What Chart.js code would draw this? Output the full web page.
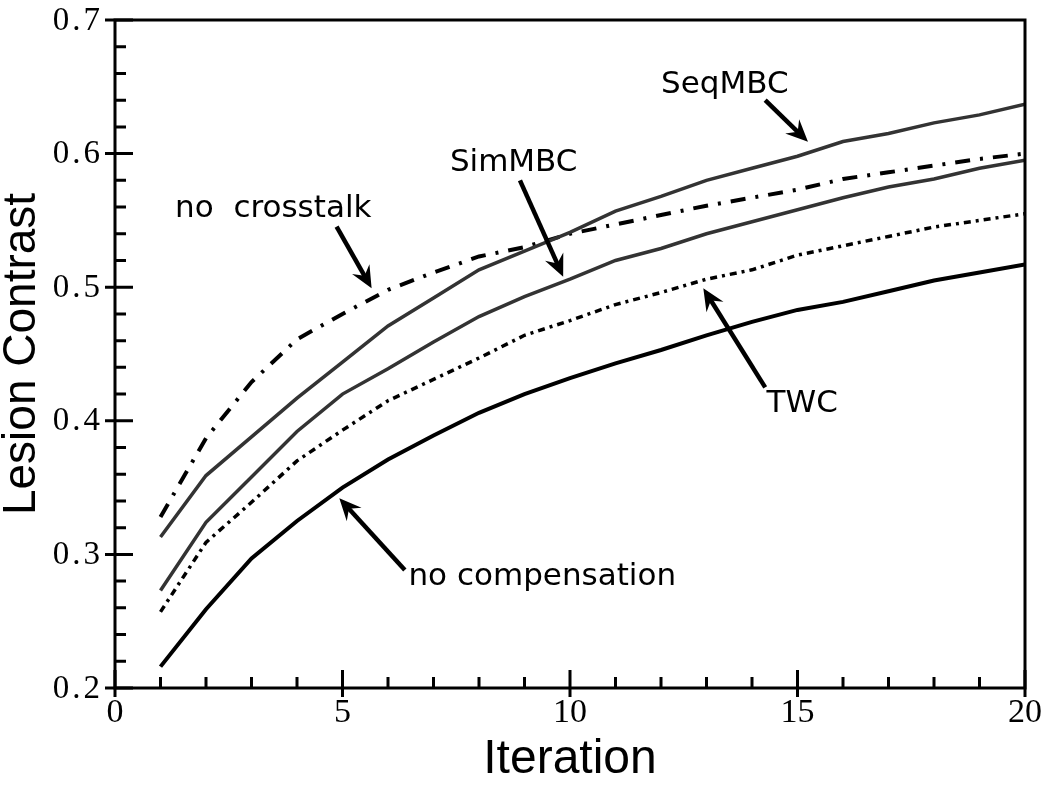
<!DOCTYPE html>
<html><head><meta charset="utf-8">
<script src="https://cdn.jsdelivr.net/npm/chart.js@4.4.1/dist/chart.umd.min.js"></script>
<style>html,body{margin:0;padding:0;background:#fff;}#wrap{width:1050px;height:793px;}</style>
</head><body><div id="wrap"><canvas id="c" width="1050" height="793"></canvas></div>
<script>
const iterations = [1,2,3,4,5,6,7,8,9,10,11,12,13,14,15,16,17,18,19,20];
const seqMBC = [0.313,0.359,0.388,0.417,0.444,0.471,0.492,0.513,0.527,0.541,0.557,0.568,0.580,0.589,0.598,0.609,0.615,0.623,0.629,0.637];
const simMBC = [0.273,0.324,0.358,0.392,0.420,0.439,0.459,0.478,0.493,0.506,0.520,0.529,0.540,0.549,0.558,0.567,0.575,0.581,0.589,0.595];
const noCrosstalk = [0.328,0.387,0.429,0.461,0.480,0.498,0.511,0.523,0.530,0.540,0.547,0.554,0.561,0.567,0.573,0.581,0.586,0.591,0.596,0.600];
const twc = [0.257,0.309,0.339,0.370,0.393,0.415,0.431,0.447,0.464,0.475,0.487,0.496,0.506,0.513,0.524,0.531,0.538,0.545,0.550,0.555];
const noCompensation = [0.216,0.259,0.297,0.325,0.350,0.371,0.389,0.406,0.420,0.432,0.443,0.453,0.464,0.474,0.483,0.489,0.497,0.505,0.511,0.517];
const xMajorTicks = [0,5,10,15,20];
const yMajorTicks = [0.2,0.3,0.4,0.5,0.6,0.7];
const yTickLabels = ['0.2','0.3','0.4','0.5','0.6','0.7'];
const xMinorStep = 1;
const yMinorStep = 0.02;
const annotationLabels = ['SeqMBC','SimMBC','no  crosstalk','TWC','no compensation'];
const annotationTextAt = [[12.0,0.645],[7.36,0.587],[1.32,0.5528],[14.32,0.4068],[6.45,0.277]];
const annotationArrowFrom = [[14.29,0.640],[8.90,0.580],[4.87,0.5453],[14.29,0.425],[6.37,0.2883]];
const annotationArrowTo = [[15.23,0.6089],[9.85,0.5079],[5.64,0.4992],[12.93,0.4992],[4.93,0.342]];

function pts(arr){ return iterations.map((x,i)=>({x:x,y:arr[i]})); }

const framePlugin = {
  id:'frame',
  afterDatasetsDraw(chart){
    const ctx = chart.ctx, a = chart.chartArea, xs = chart.scales.x, ys = chart.scales.y;
    ctx.save();
    ctx.strokeStyle = '#000'; ctx.lineWidth = 3; ctx.lineCap='butt';
    ctx.strokeRect(a.left, a.top, a.right - a.left, a.bottom - a.top);
    ctx.beginPath();
    for (let v = xs.min; v <= xs.max + 1e-9; v += xMinorStep) {
      const p = xs.getPixelForValue(v);
      ctx.moveTo(p, a.bottom); ctx.lineTo(p, a.bottom - 11);
    }
    xMajorTicks.forEach(v=>{ const p = xs.getPixelForValue(v); ctx.moveTo(p, a.bottom + 9); ctx.lineTo(p, a.bottom - 18); });
    for (let k = 0; ; k++) {
      const v = ys.min + k*yMinorStep; if (v > ys.max + 1e-9) break;
      const p = ys.getPixelForValue(v);
      ctx.moveTo(a.left, p); ctx.lineTo(a.left + 11, p);
    }
    yMajorTicks.forEach(v=>{ const p = ys.getPixelForValue(v); ctx.moveTo(a.left - 10, p); ctx.lineTo(a.left + 18, p); });
    ctx.stroke();
    // y tick labels (wide-spaced serif, as in the original)
    ctx.fillStyle = '#000';
    ctx.font = '33px "Liberation Serif"';
    ctx.textAlign = 'right'; ctx.textBaseline = 'middle';
    if ('letterSpacing' in ctx) ctx.letterSpacing = '3px';
    yMajorTicks.forEach((v,i)=>{ ctx.fillText(yTickLabels[i], a.left - 12, ys.getPixelForValue(v) + 1); });
    if ('letterSpacing' in ctx) ctx.letterSpacing = '0px';
    ctx.restore();
  }
};

const annotPlugin = {
  id:'annot',
  afterDatasetsDraw(chart){
    const ctx = chart.ctx, xs = chart.scales.x, ys = chart.scales.y;
    ctx.save();
    ctx.fillStyle = '#000'; ctx.strokeStyle = '#000';
    ctx.font = '31px "DejaVu Sans"';
    ctx.textBaseline = 'alphabetic'; ctx.textAlign = 'left';
    annotationLabels.forEach((t,i)=>{
      ctx.fillText(t, xs.getPixelForValue(annotationTextAt[i][0]), ys.getPixelForValue(annotationTextAt[i][1]));
      const x1 = xs.getPixelForValue(annotationArrowFrom[i][0]), y1 = ys.getPixelForValue(annotationArrowFrom[i][1]);
      const x2 = xs.getPixelForValue(annotationArrowTo[i][0]), y2 = ys.getPixelForValue(annotationArrowTo[i][1]);
      const dx = x2-x1, dy = y2-y1, len = Math.hypot(dx,dy), ux = dx/len, uy = dy/len;
      const L = 22, W = 10;
      ctx.lineWidth = 4.5; ctx.lineCap = 'butt';
      ctx.beginPath(); ctx.moveTo(x1,y1); ctx.lineTo(x2 - ux*L*0.6, y2 - uy*L*0.6); ctx.stroke();
      ctx.beginPath();
      ctx.moveTo(x2,y2);
      ctx.lineTo(x2 - ux*L - uy*W, y2 - uy*L + ux*W);
      ctx.lineTo(x2 - ux*L*0.65, y2 - uy*L*0.65);
      ctx.lineTo(x2 - ux*L + uy*W, y2 - uy*L - ux*W);
      ctx.closePath(); ctx.fill();
    });
    ctx.restore();
  }
};

new Chart(document.getElementById('c'), {
  type:'line',
  data:{ datasets:[
    {label:'SeqMBC', data:pts(seqMBC), borderColor:'#333', borderWidth:3.5},
    {label:'SimMBC', data:pts(simMBC), borderColor:'#333', borderWidth:3.5},
    {label:'no crosstalk', data:pts(noCrosstalk), borderColor:'#000', borderWidth:4, borderDash:[15,10,3,10]},
    {label:'TWC', data:pts(twc), borderColor:'#000', borderWidth:3.5, borderDash:[7,5,3,5]},
    {label:'no compensation', data:pts(noCompensation), borderColor:'#000', borderWidth:4}
  ]},
  options:{
    responsive:false, animation:false, devicePixelRatio:1,
    layout:{padding:{top:20,right:25,left:0,bottom:0}},
    elements:{point:{radius:0}, line:{tension:0, fill:false}},
    plugins:{legend:{display:false}, tooltip:{enabled:false}},
    scales:{
      x:{type:'linear', min:0, max:20,
        afterFit(s){ s.height = 105; },
        afterBuildTicks(s){ s.ticks = xMajorTicks.map(v=>({value:v})); },
        grid:{display:false, drawTicks:false}, border:{display:false},
        ticks:{padding:5, color:'#000', font:{family:'"Liberation Serif"', size:34}, maxRotation:0, autoSkip:false},
        title:{display:true, text:'Iteration', color:'#000', font:{family:'"Liberation Sans"', size:48, lineHeight:1}, padding:{top:0,bottom:9}}
      },
      y:{type:'linear', min:0.2, max:0.7,
        afterFit(s){ s.width = 115; },
        afterBuildTicks(s){ s.ticks = yMajorTicks.map(v=>({value:v})); },
        grid:{display:false, drawTicks:false}, border:{display:false},
        ticks:{display:false},
        title:{display:true, text:'Lesion Contrast', color:'#000', font:{family:'"Liberation Sans"', size:46, lineHeight:1}, padding:{top:-1,bottom:0}}
      }
    }
  },
  plugins:[framePlugin, annotPlugin]
});
</script></body></html>
